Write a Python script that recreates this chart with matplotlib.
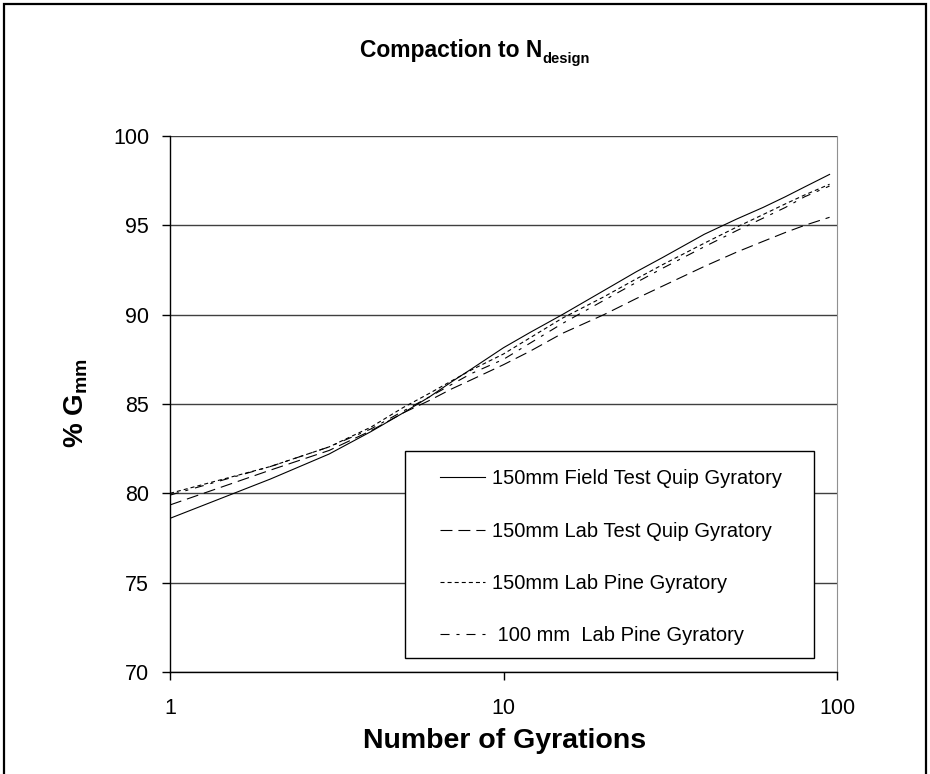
import matplotlib
matplotlib.use('Agg')
import matplotlib.pyplot as plt
from matplotlib.patches import Rectangle

plt.rcParams['font.family'] = ['Liberation Sans', 'DejaVu Sans']
plt.rcParams['mathtext.fontset'] = 'custom'
plt.rcParams['mathtext.rm'] = 'Liberation Sans'
plt.rcParams['mathtext.bf'] = 'Liberation Sans:bold'
plt.rcParams['lines.scale_dashes'] = False

# gyrations and % Gmm
gyrations = [1, 2, 3, 4, 5, 6, 7, 8, 10, 12, 15, 20, 25, 30, 40, 50, 60, 70, 80, 95]
field_quip = [78.6, 80.8, 82.2, 83.45, 84.5, 85.4, 86.25, 86.95, 88.15, 89.0, 90.0, 91.35,
              92.4, 93.2, 94.5, 95.35, 96.0, 96.6, 97.15, 97.85]
lab_quip = [79.35, 81.3, 82.4, 83.5, 84.5, 85.2, 85.85, 86.35, 87.2, 87.95, 88.95, 90.0,
            90.9, 91.6, 92.7, 93.5, 94.1, 94.6, 95.0, 95.45]
lab_pine_150 = [80.0, 81.5, 82.6, 83.7, 84.8, 85.6, 86.3, 86.9, 87.8, 88.7, 89.8, 91.0,
                92.0, 92.8, 94.0, 94.9, 95.6, 96.2, 96.7, 97.3]
lab_pine_100 = [79.9, 81.5, 82.6, 83.6, 84.6, 85.4, 86.1, 86.7, 87.5, 88.4, 89.5, 90.8,
                91.8, 92.6, 93.8, 94.7, 95.4, 96.0, 96.6, 97.2]

labels = ['150mm Field Test Quip Gyratory', '150mm Lab Test Quip Gyratory',
          '150mm Lab Pine Gyratory', ' 100 mm  Lab Pine Gyratory']
styles = ['-', (0, (8.6, 4.3)), (0, (2.9, 2.2)), (0, (6.5, 5, 2.2, 5))]

fig = plt.figure(figsize=(9.3, 7.74), dpi=100)
ax = fig.add_axes([170 / 930, 1 - 672 / 774, 667 / 930, 536 / 774])

for series, lab, ls in zip([field_quip, lab_quip, lab_pine_150, lab_pine_100], labels, styles):
    ax.plot(gyrations, series, color='black', linewidth=0.8, linestyle=ls, label=lab)

ax.set_xscale('log')
ax.set_xlim(1, 100)
ax.set_ylim(70, 100)
ax.set_xticks([1, 10, 100])
ax.set_xticklabels(['1', '10', '100'])
ax.minorticks_off()
ax.set_yticks([70, 75, 80, 85, 90, 95, 100])
ax.yaxis.grid(True, color='#404040', linewidth=1)
ax.set_axisbelow(True)

ax.spines['top'].set_visible(False)
ax.spines['right'].set_color('#909090')
ax.spines['left'].set_linewidth(1)
ax.spines['bottom'].set_linewidth(1)
ax.tick_params(axis='both', direction='out', length=6, width=1, labelsize=15.5)
ax.tick_params(axis='x', pad=13)
ax.tick_params(axis='y', pad=9)

# title with a small subscript
fig.text(542 / 930, 1 - 57 / 774, 'Compaction to N', ha='right', va='baseline',
         fontsize=16.5, fontweight='bold')
fig.text(542 / 930, 1 - 63 / 774, 'design', ha='left', va='baseline',
         fontsize=10.5, fontweight='bold')

ax.set_xlabel('Number of Gyrations', fontsize=20.5, fontweight='bold')
ax.xaxis.set_label_coords((505 - 170) / 667, -(728 - 672) / 536)
ax.set_ylabel(r'% G$_{\mathbf{mm}}$', fontsize=20, fontweight='bold')
ax.yaxis.set_label_coords(-(170 - 90) / 667, (672 - 403) / 536)

# legend box drawn separately so the entries can sit inside it freely
ax.add_patch(Rectangle((0.352, 0.026), 0.613, 0.386, transform=ax.transAxes,
                       facecolor='white', edgecolor='black', linewidth=1, zorder=4))
ax.legend(loc='upper left', bbox_to_anchor=(0.405, 0.378), frameon=False, fontsize=14.5,
          borderpad=0, borderaxespad=0, handlelength=2.25, handletextpad=0.35,
          labelspacing=1.65).set_zorder(5)

# outer chart border
fig.patches.append(Rectangle((4 / 930, -0.1), 922 / 930, 1.1 - 4 / 774, transform=fig.transFigure,
                             facecolor='none', edgecolor='black', linewidth=1.6))

fig.savefig('out.png', dpi=100)
